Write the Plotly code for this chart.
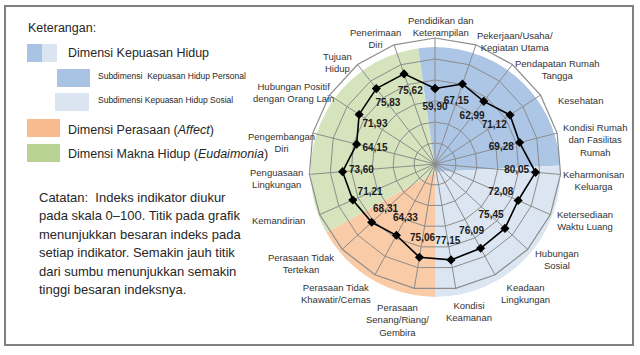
import plotly.graph_objects as go

# ---------------- data ----------------
categories = [
    "Pendidikan dan<br>Keterampilan",
    "Pekerjaan/Usaha/<br>Kegiatan Utama",
    "Pendapatan Rumah<br>Tangga",
    "Kesehatan",
    "Kondisi Rumah<br>dan Fasilitas<br>Rumah",
    "Keharmonisan<br>Keluarga",
    "Ketersediaan<br>Waktu Luang",
    "Hubungan<br>Sosial",
    "Keadaan<br>Lingkungan",
    "Kondisi<br>Keamanan",
    "Perasaan<br>Senang/Riang/<br>Gembira",
    "Perasaan Tidak<br>Khawatir/Cemas",
    "Perasaan Tidak<br>Tertekan",
    "Kemandirian",
    "Penguasaan<br>Lingkungan",
    "Pengembangan<br>Diri",
    "Hubungan Positif<br>dengan Orang Lain",
    "Tujuan<br>Hidup",
    "Penerimaan<br>Diri",
]
values = [59.90, 67.15, 62.99, 71.12, 69.28, 80.05, 72.08, 75.45, 76.09, 77.15,
          75.06, 64.33, 68.31, 71.21, 73.60, 64.15, 71.93, 75.83, 75.62]

# background dimension sectors (degrees clockwise from top)
sector_names = ["Personal", "Sosial", "Perasaan", "Makna Hidup"]
sector_start = [-8, 87, 180, 241]
sector_end = [87, 180, 241, 352]
sector_colors = ["#adc6e6", "#dce6f2", "#f9cba7", "#d6e4bd"]

# placement of the indicator names around the chart (pixel centres, layout only)
label_xy = [(441, 26), (515, 42), (557, 70), (580, 100), (595, 140), (593, 180),
            (585, 221), (557, 259), (525, 293), (469, 311), (397, 320), (336, 293),
            (301, 263), (278, 221), (276, 178), (281, 142), (293, 92), (337, 63),
            (375, 39)]

W, H = 640, 355
FONT = "Liberation Sans Narrow, Arial Narrow, Liberation Sans, Arial, sans-serif"


def px(x):
    return x / W


def py(y):
    return 1 - y / H


fig = go.Figure()

# sectors (lower polar)
centers = [(s + e) / 2 for s, e in zip(sector_start, sector_end)]
widths = [e - s for s, e in zip(sector_start, sector_end)]
fig.add_trace(go.Barpolar(
    r=[100] * len(sector_names), theta=centers, width=widths,
    marker=dict(color=sector_colors, line=dict(width=0)),
    subplot="polar", hoverinfo="skip", showlegend=False,
))

# data line
theta_closed = categories + [categories[0]]
r_closed = values + [values[0]]
fig.add_trace(go.Scatterpolar(
    r=r_closed, theta=theta_closed, mode="lines+markers",
    line=dict(color="black", width=1.6),
    marker=dict(symbol="diamond", size=7, color="black"),
    subplot="polar2", showlegend=False,
))
# value labels
fig.add_trace(go.Scatterpolar(
    r=[v - 15 for v in values], theta=categories, mode="text",
    text=[f"{v:.2f}".replace(".", ",") for v in values],
    textfont=dict(family=FONT, size=10, color="#1a1a1a", weight="bold"),
    subplot="polar2", showlegend=False, hoverinfo="skip",
))

grid_col = "#8c8c8c"
fig.update_layout(
    width=W, height=H, margin=dict(l=0, r=0, t=0, b=0),
    paper_bgcolor="white", plot_bgcolor="white",
    showlegend=False,
    polar=dict(
        domain=dict(x=[px(310.5), px(560.5)], y=[py(297), py(47)]),
        bgcolor="rgba(0,0,0,0)",
        radialaxis=dict(visible=False, range=[0, 100]),
        angularaxis=dict(visible=False, direction="clockwise", rotation=90,
                         thetaunit="degrees"),
        bargap=0,
    ),
    polar2=dict(
        domain=dict(x=[px(309), px(561)], y=[py(290), py(38)]),
        bgcolor="rgba(0,0,0,0)",
        gridshape="linear",
        radialaxis=dict(range=[0, 100], tickvals=[100 / 6 * k for k in range(1, 7)],
                        showticklabels=False, ticks="", showline=False,
                        gridcolor=grid_col, gridwidth=1.2),
        angularaxis=dict(type="category", categoryarray=categories,
                         direction="clockwise", rotation=90,
                         showline=True, linecolor=grid_col, linewidth=1.2,
                         gridcolor=grid_col, gridwidth=1.2, ticks="",
                         showticklabels=False),
    ),
)

shapes = []
# outer frame
shapes.append(dict(type="rect", xref="paper", yref="paper",
                   x0=px(5), x1=px(633), y0=py(345), y1=py(6),
                   line=dict(color="#808080", width=2), fillcolor="rgba(0,0,0,0)"))
legend_dark = "#a9c3e4"
legend_light = "#dbe5f2"
legend_orange = "#f8bb8d"
legend_green = "#b8d294"


def rect(x0, y0, x1, y1, col):
    shapes.append(dict(type="rect", xref="paper", yref="paper",
                       x0=px(x0), x1=px(x1), y0=py(y1), y1=py(y0),
                       line=dict(width=0), fillcolor=col, layer="below"))


rect(27, 44, 42, 62, legend_dark)
rect(42, 44, 57, 62, legend_light)
rect(57, 69, 90, 87, legend_dark)
rect(55, 93, 89, 111, legend_light)
rect(27, 119, 60, 137, legend_orange)
rect(27, 144, 60, 162, legend_green)
fig.update_layout(shapes=shapes)

ann = []


def text(x, y, s, size, color="#262626", anchor="left"):
    ann.append(dict(xref="paper", yref="paper", x=px(x), y=py(y), text=s,
                    showarrow=False, xanchor=anchor, yanchor="middle", align="center",
                    font=dict(family=FONT, size=size, color=color)))


text(26, 28, "Keterangan:", 12.5)
text(66, 53, "Dimensi Kepuasan Hidup", 12.5)
text(96, 76, "Subdimensi  Kepuasan Hidup Personal", 8.5)
text(96, 100, "Subdimensi Kepuasan Hidup Sosial", 8.5)
text(66, 130, "Dimensi Perasaan (<i>Affect</i>)", 12.5)
text(66, 154, "Dimensi Makna Hidup (<i>Eudaimonia</i>)", 12.5)

note_lines = [
    "Catatan:  Indeks indikator diukur",
    "pada skala 0\u2013100. Titik pada grafik",
    "menunjukkan besaran indeks pada",
    "setiap indikator. Semakin jauh titik",
    "dari sumbu menunjukkan semakin",
    "tinggi besaran indeksnya.",
]
for i, line in enumerate(note_lines):
    text(37, 197 + i * 18.5, line, 13)

# indicator names
for cat, (lx, ly) in zip(categories, label_xy):
    text(lx, ly, cat, 9.5, color="#333333", anchor="center")

fig.update_layout(annotations=ann)
fig.write_html("out.html")
